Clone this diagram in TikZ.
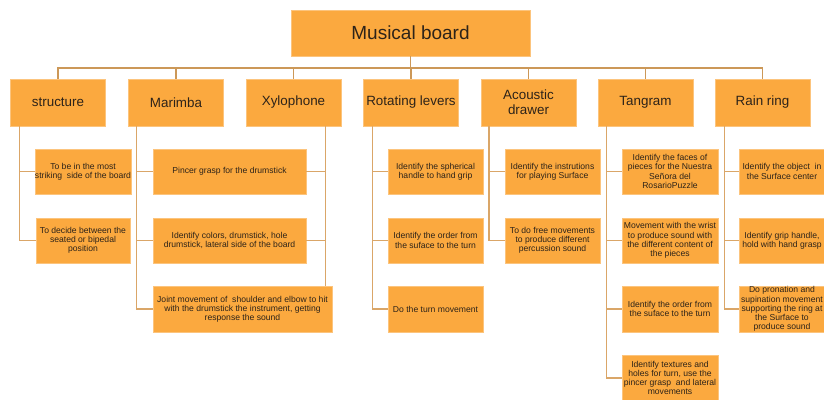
\documentclass[tikz,border=0pt]{standalone}
\usepackage{fontspec}
\setmainfont{Liberation Sans}
\definecolor{boxfill}{RGB}{251,169,63}
\definecolor{boxedge}{RGB}{252,196,125}
\definecolor{linec}{RGB}{218,166,104}
\definecolor{barc}{RGB}{204,152,88}
\definecolor{txt}{RGB}{45,35,25}
\tikzset{
  box/.style={fill=boxfill, draw=boxedge, line width=0.8pt, inner sep=0pt, align=center, text=txt},
  topbox/.style={box, minimum width=239pt, minimum height=46pt, font=\fontsize{19}{22}\selectfont},
  catbox/.style={box, minimum width=95pt, minimum height=47pt, font=\fontsize{13.4}{15}\selectfont},
  leaf/.style={box, minimum width=95pt, minimum height=45pt, font=\fontsize{8.6}{9.2}\selectfont},
  edgeleaf/.style={leaf, minimum width=86pt},
  link/.style={draw=linec, line width=1.6pt},
  barlink/.style={draw=barc, line width=1.6pt}
}
\begin{document}
\begin{tikzpicture}[x=1pt,y=-1pt]
\useasboundingbox (0,0) rectangle (824,399);
\fill[white] (0,0) rectangle (824,399);
\clip (0,0) rectangle (824,399);
% top
\node[topbox] (top) at (410.5,33) {Musical board};
% categories
\node[catbox] (c1) at (58,102.5) {structure};
\node[catbox] (c2) at (176,102.5) {Marimba};
\node[catbox] (c3) at (293.5,102.5) {Xylophone};
\node[catbox] (c4) at (411,102.5) {Rotating levers};
\node[catbox] (c5) at (528.5,102.5) {Acoustic\\drawer};
\node[catbox] (c6) at (645.5,102.5) {Tangram};
\node[catbox] (c7) at (762.5,102.5) {Rain ring};
% structure
\node[leaf, minimum width=94pt] (s1) at (83,171.5) {To be in the most\\striking\ \ side of the board};
\node[leaf, minimum width=94pt] (s2) at (83,240.5) {To decide between the\\seated or bipedal\\position};
% marimba / xylophone
\node[leaf, minimum width=153pt] (m1) at (229.5,171.5) {Pincer grasp for the drumstick};
\node[leaf, minimum width=153pt] (m2) at (229.5,240.5) {Identify colors, drumstick, hole\\drumstick, lateral side of the board};
\node[leaf, minimum width=179pt, minimum height=46pt] (m3) at (242.5,309) {Joint movement of\ \ shoulder and elbow to hit\\with the drumstick the instrument, getting\\response the sound};
% rotating levers
\node[leaf] (r1) at (435.5,171.5) {Identify the spherical\\handle to hand grip};
\node[leaf] (r2) at (435.5,240.5) {Identify the order from\\the suface to the turn};
\node[leaf, minimum height=46pt] (r3) at (435.5,309) {Do the turn movement};
% acoustic drawer
\node[leaf] (a1) at (552.5,171.5) {Identify the instrutions\\for playing Surface};
\node[leaf] (a2) at (552.5,240.5) {To do free movements\\to produce different\\percussion sound};
% tangram
\node[leaf, minimum width=96pt] (t1) at (670,171.5) {Identify the faces of\\pieces for the Nuestra\\Señora del\\RosarioPuzzle};
\node[leaf, minimum width=96pt] (t2) at (670,240.5) {Movement with the wrist\\to produce sound with\\the different content of\\the pieces};
\node[leaf, minimum width=96pt, minimum height=46pt] (t3) at (670,309) {Identify the order from\\the suface to the turn};
\node[leaf, minimum width=96pt, minimum height=46pt] (t4) at (670,378) {Identify textures and\\holes for turn, use the\\pincer grasp\ \ and lateral\\movements};
% rain ring (boxes run into the right edge)
\node[edgeleaf] (g1) at (782,171.5) {Identify the object\ \ in\\the Surface center};
\node[edgeleaf] (g2) at (782,240.5) {Identify grip handle,\\hold with hand grasp};
\node[edgeleaf, minimum height=46pt] (g3) at (782,309) {Do pronation and\\supination movement\\supporting the ring at\\the Surface to\\produce sound};
% top bar
\coordinate (bar) at (0,68);
\draw[barlink] (top.south) -- (top.south |- bar);
\draw[barlink] (c1.north) -- (c1.north |- bar) -- (c7.north |- bar) -- (c7.north);
\foreach \c in {c2,c3,c4,c5,c6} \draw[barlink] (\c.north) -- (\c.north |- bar);
% structure links
\coordinate (p1) at ([xshift=9.5pt]c1.south west);
\draw[link] (p1) |- (s2.west);
\draw[link] (p1 |- s1.west) -- (s1.west);
% marimba links
\coordinate (p2) at ([xshift=8.5pt]c2.south west);
\draw[link] (p2) |- (m3.west);
\draw[link] (p2 |- m1.west) -- (m1.west);
\draw[link] (p2 |- m2.west) -- (m2.west);
% xylophone links
\coordinate (p3) at ([xshift=-16pt]c3.south east);
\draw[link] (p3) -- (p3 |- m3.north);
\draw[link] (p3 |- m1.east) -- (m1.east);
\draw[link] (p3 |- m2.east) -- (m2.east);
% rotating levers links
\coordinate (p4) at ([xshift=9.5pt]c4.south west);
\draw[link] (p4) |- (r3.west);
\draw[link] (p4 |- r1.west) -- (r1.west);
\draw[link] (p4 |- r2.west) -- (r2.west);
% acoustic drawer links
\coordinate (p5) at ([xshift=8.5pt]c5.south west);
\draw[link] (p5) |- (a2.west);
\draw[link] (p5 |- a1.west) -- (a1.west);
% tangram links
\coordinate (p6) at ([xshift=9pt]c6.south west);
\draw[link] (p6) |- (t4.west);
\draw[link] (p6 |- t1.west) -- (t1.west);
\draw[link] (p6 |- t2.west) -- (t2.west);
\draw[link] (p6 |- t3.west) -- (t3.west);
% rain ring links
\coordinate (p7) at ([xshift=10pt]c7.south west);
\draw[link] (p7) |- (g3.west);
\draw[link] (p7 |- g1.west) -- (g1.west);
\draw[link] (p7 |- g2.west) -- (g2.west);
\end{tikzpicture}
\end{document}
